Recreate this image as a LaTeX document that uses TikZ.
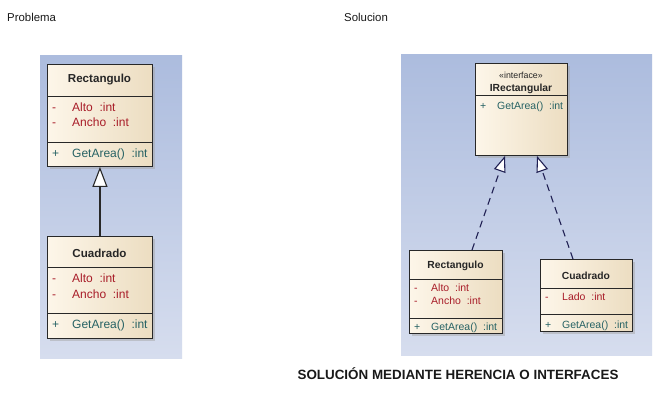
\documentclass[tikz,border=0pt]{standalone}
\usepackage{fontspec}
\setmainfont{Liberation Sans}
\usetikzlibrary{arrows.meta,calc}
\definecolor{bgtop}{RGB}{172,188,222}
\definecolor{bgbot}{RGB}{214,221,238}
\definecolor{boxl}{RGB}{253,246,233}
\definecolor{boxr}{RGB}{236,221,193}
\definecolor{attr}{RGB}{168,28,40}
\definecolor{meth}{RGB}{38,98,100}
\definecolor{edge}{RGB}{40,40,40}
\tikzset{
  panel/.style={draw=none, top color=bgtop, bottom color=bgbot, inner sep=0pt, anchor=north west},
  classbox/.style={draw=edge, line width=0.9pt, left color=boxl, right color=boxr, inner sep=0pt, anchor=north west},
  shadowbox/.style={fill=black!35, opacity=0.5, draw=none, inner sep=0pt, anchor=north west},
  divider/.style={draw=edge, line width=0.9pt},
  ttlbig/.style={font=\fontsize{11.6}{13}\selectfont\bfseries, text=black!85, inner sep=0pt},
  ttlsmall/.style={font=\fontsize{10.3}{12}\selectfont\bfseries, text=black!85, inner sep=0pt},
  stereo/.style={font=\fontsize{8.8}{10}\selectfont, text=black!85, inner sep=0pt},
  attbig/.style={font=\fontsize{12}{14}\selectfont, text=attr, inner sep=0pt, anchor=west, text height=8.5pt, text depth=2.5pt},
  methbig/.style={font=\fontsize{12}{14}\selectfont, text=meth, inner sep=0pt, anchor=west, text height=8.5pt, text depth=2.5pt},
  attsmall/.style={font=\fontsize{10.5}{12}\selectfont, text=attr, inner sep=0pt, anchor=west, text height=7.5pt, text depth=2.2pt},
  methsmall/.style={font=\fontsize{10.5}{12}\selectfont, text=meth, inner sep=0pt, anchor=west, text height=7.5pt, text depth=2.2pt},
  heading/.style={font=\fontsize{11.4}{14}\selectfont, text=black!90, inner sep=0pt, anchor=west},
  inherit/.style={draw=edge, line width=1.1pt, -{Triangle[length=20pt,width=15pt,fill=white]}},
  realize/.style={draw=edge!80!blue, line width=1.1pt, dash pattern=on 7pt off 5pt, -{Triangle[length=16pt,width=12pt,fill=white]}},
}
\begin{document}
\begin{tikzpicture}[x=1pt,y=-1pt]
\useasboundingbox (0,0) rectangle (665,400);
\fill[white] (0,0) rectangle (665,400);

% headings
\node[heading] (hprob) at (7,17) {Problema};
\node[heading] (hsol) at (344,17) {Solucion};
\node[font=\fontsize{13.4}{15}\selectfont\bfseries, text=black!90, inner sep=0pt] (hfoot) at (458,374) {SOLUCIÓN MEDIANTE HERENCIA O INTERFACES};

% panels
\node[panel, minimum width=142pt, minimum height=303pt] (pleft) at (40,55) {};
\node[panel, minimum width=251pt, minimum height=301pt] (pright) at (401,54) {};

% ---------- left: Rectangulo ----------
\node[shadowbox, minimum width=105pt, minimum height=102pt] (r1s) at (49.5,66.5) {};
\node[classbox, minimum width=105pt, minimum height=102pt] (r1) at (47,64) {};
\draw[divider] (47,96) -- (152,96);
\draw[divider] (47,142) -- (152,142);
\node[ttlbig] (r1t) at (99.5,80) {Rectangulo};
\node[attbig] (r1a1m) at (52,108) {-};
\node[attbig] (r1a1) at (72,108) {Alto\ \ :int};
\node[attbig] (r1a2m) at (52,123) {-};
\node[attbig] (r1a2) at (72,123) {Ancho\ \ :int};
\node[methbig] (r1m1m) at (52,154) {+};
\node[methbig] (r1m1) at (72,154) {GetArea()\ \ :int};

% ---------- left: Cuadrado ----------
\node[shadowbox, minimum width=105pt, minimum height=102pt] (c1s) at (49.5,238.5) {};
\node[classbox, minimum width=105pt, minimum height=102pt] (c1) at (47,236) {};
\draw[divider] (47,267) -- (152,267);
\draw[divider] (47,313) -- (152,313);
\node[ttlbig] (c1t) at (99.5,253) {Cuadrado};
\node[attbig] (c1a1m) at (52,279) {-};
\node[attbig] (c1a1) at (72,279) {Alto\ \ :int};
\node[attbig] (c1a2m) at (52,295) {-};
\node[attbig] (c1a2) at (72,295) {Ancho\ \ :int};
\node[methbig] (c1m1m) at (52,325) {+};
\node[methbig] (c1m1) at (72,325) {GetArea()\ \ :int};

\draw[inherit] (c1.north) -- (r1.south);

% ---------- right: IRectangular ----------
\node[shadowbox, minimum width=92pt, minimum height=92pt] (irs) at (477.5,65.5) {};
\node[classbox, minimum width=92pt, minimum height=92pt] (ir) at (475,63) {};
\draw[divider] (475,95) -- (567,95);
\node[stereo] (irst) at (521,75.5) {«interface»};
\node[ttlsmall] (irt) at (521,88.5) {IRectangular};
\node[methsmall] (irm1m) at (480,107) {+};
\node[methsmall] (irm1) at (497,107) {GetArea()\ \ :int};

% ---------- right: Rectangulo ----------
\node[shadowbox, minimum width=93pt, minimum height=83pt] (r2s) at (411.5,252.5) {};
\node[classbox, minimum width=93pt, minimum height=83pt] (r2) at (409,250) {};
\draw[divider] (409,279) -- (502,279);
\draw[divider] (409,318) -- (502,318);
\node[ttlsmall] (r2t) at (455.5,266) {Rectangulo};
\node[attsmall] (r2a1m) at (414,289) {-};
\node[attsmall] (r2a1) at (431,289) {Alto\ \ :int};
\node[attsmall] (r2a2m) at (414,302) {-};
\node[attsmall] (r2a2) at (431,302) {Ancho\ \ :int};
\node[methsmall] (r2m1m) at (414,328) {+};
\node[methsmall] (r2m1) at (431,328) {GetArea()\ \ :int};

% ---------- right: Cuadrado ----------
\node[shadowbox, minimum width=92pt, minimum height=72pt] (c2s) at (542.5,261.5) {};
\node[classbox, minimum width=92pt, minimum height=72pt] (c2) at (540,259) {};
\draw[divider] (540,288) -- (632,288);
\draw[divider] (540,314) -- (632,314);
\node[ttlsmall] (c2t) at (586,276) {Cuadrado};
\node[attsmall] (c2a1m) at (545,298) {-};
\node[attsmall] (c2a1) at (562,298) {Lado\ \ :int};
\node[methsmall] (c2m1m) at (545,326) {+};
\node[methsmall] (c2m1) at (562,326) {GetArea()\ \ :int};

% realizations
\draw[realize] ($(r2.north west)+(63,0)$) -- ($(ir.south west)+(30,0)$);
\draw[realize] ($(c2.north west)+(33,0)$) -- ($(ir.south west)+(62,0)$);
\end{tikzpicture}
\end{document}
